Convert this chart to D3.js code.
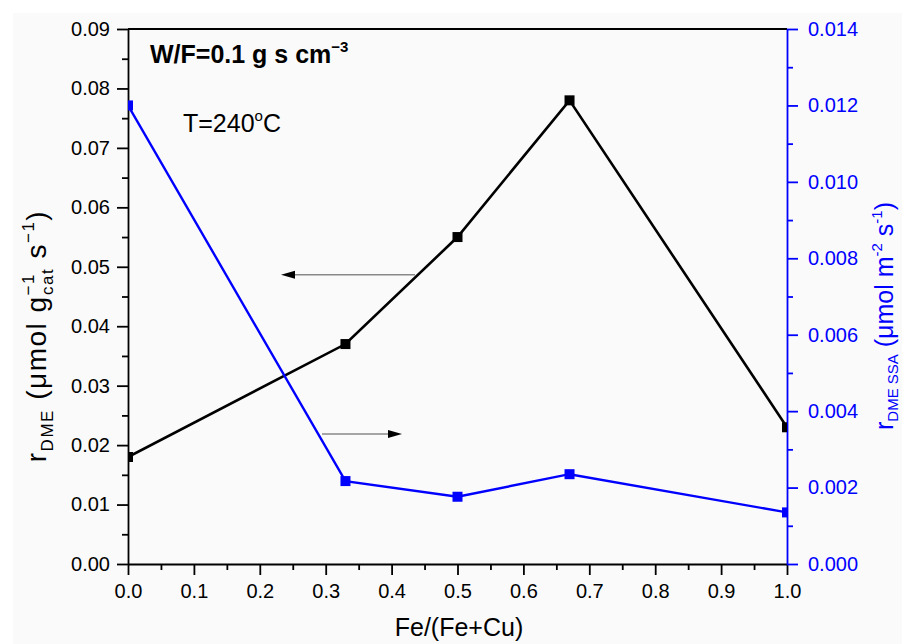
<!DOCTYPE html>
<html><head><meta charset="utf-8">
<script src="https://cdn.jsdelivr.net/npm/d3@7"></script>
<style>body{margin:0;background:#fff}svg{display:block}text{font-family:"Liberation Sans",Arial,sans-serif}</style>
</head><body>
<svg id="c" width="902" height="644"></svg>
<script>
const fracs = [0, 0.33, 0.5, 0.67, 1.0];
const rateMass = [0.018, 0.037, 0.055, 0.078, 0.023];
const rateArea = [0.0120, 0.00217, 0.00176, 0.00235, 0.00135];
const xTicks = [0,0.1,0.2,0.3,0.4,0.5,0.6,0.7,0.8,0.9,1.0];
const xMinor = [0.05,0.15,0.25,0.35,0.45,0.55,0.65,0.75,0.85,0.95];
const yLTicks = [0,0.01,0.02,0.03,0.04,0.05,0.06,0.07,0.08,0.09];
const yLMinor = [0.005,0.015,0.025,0.035,0.045,0.055,0.065,0.075,0.085];
const yRTicks = [0,0.002,0.004,0.006,0.008,0.010,0.012,0.014];
const yRMinor = [0.001,0.003,0.005,0.007,0.009,0.011,0.013];

const svg = d3.select("#c");
const L=128,R=787,T=29,B=564;
const x = d3.scaleLinear().domain([0,1]).range([L,R]);
const yL = d3.scaleLinear().domain([0,0.09]).range([B,T]);
const yR = d3.scaleLinear().domain([0,0.014]).range([B,T]);
const blue="#0000ff";

svg.append("rect").attr("x",13).attr("y",13).attr("width",902).attr("height",644).attr("fill","#fafafa");

svg.append("defs").append("clipPath").attr("id","clip").append("rect")
  .attr("x",L).attr("y",T-10).attr("width",R-L).attr("height",B-T+20);

// top border
svg.append("line").attr("x1",L).attr("x2",R).attr("y1",T).attr("y2",T).attr("stroke","#000").attr("stroke-width",1.8);

function styleAxis(g,color,fs){
  g.select(".domain").attr("stroke",color).attr("stroke-width",1.8);
  g.selectAll(".tick line").attr("stroke",color).attr("stroke-width",1.8);
  g.selectAll(".tick text").attr("fill",color).style("font-size",fs+"px").style("font-family",'"Liberation Sans",Arial,sans-serif');
}
// left axis
const gL = svg.append("g").attr("transform",`translate(${L},0)`)
  .call(d3.axisLeft(yL).tickValues(yLTicks).tickFormat(d3.format(".2f")).tickSize(11).tickSizeOuter(0).tickPadding(7));
styleAxis(gL,"#000",20);
const gLm = svg.append("g").attr("transform",`translate(${L},0)`)
  .call(d3.axisLeft(yL).tickValues(yLMinor).tickFormat("").tickSize(6).tickSizeOuter(0));
styleAxis(gLm,"#000",20); gLm.select(".domain").remove();

// bottom axis
const gB = svg.append("g").attr("transform",`translate(0,${B})`)
  .call(d3.axisBottom(x).tickValues(xTicks).tickFormat(d3.format(".1f")).tickSize(11).tickSizeOuter(0).tickPadding(9));
styleAxis(gB,"#000",20);
const gBm = svg.append("g").attr("transform",`translate(0,${B})`)
  .call(d3.axisBottom(x).tickValues(xMinor).tickFormat("").tickSize(6).tickSizeOuter(0));
styleAxis(gBm,"#000",20); gBm.select(".domain").remove();

// right axis
const gR = svg.append("g").attr("transform",`translate(${R},0)`)
  .call(d3.axisRight(yR).tickValues(yRTicks).tickFormat(d3.format(".3f")).tickSize(11).tickSizeOuter(0).tickPadding(10));
styleAxis(gR,blue,20);
const gRm = svg.append("g").attr("transform",`translate(${R},0)`)
  .call(d3.axisRight(yR).tickValues(yRMinor).tickFormat("").tickSize(6).tickSizeOuter(0));
styleAxis(gRm,blue,20); gRm.select(".domain").remove();

// data
const plot = svg.append("g").attr("clip-path","url(#clip)");
const dm = fracs.map((f,i)=>[f,rateMass[i]]);
const da = fracs.map((f,i)=>[f,rateArea[i]]);
plot.append("path").datum(dm).attr("fill","none").attr("stroke","#000").attr("stroke-width",2.6)
  .attr("d",d3.line().x(d=>x(d[0])).y(d=>yL(d[1])));
plot.selectAll(".mk").data(dm).join("rect").attr("x",d=>x(d[0])-5).attr("y",d=>yL(d[1])-5)
  .attr("width",10).attr("height",10).attr("fill","#000");
plot.append("path").datum(da).attr("fill","none").attr("stroke",blue).attr("stroke-width",2.4)
  .attr("d",d3.line().x(d=>x(d[0])).y(d=>yR(d[1])));
plot.selectAll(".mb").data(da).join("rect").attr("x",d=>x(d[0])-5).attr("y",d=>yR(d[1])-5)
  .attr("width",10).attr("height",10).attr("fill",blue);

// arrows
function arrow(x1,x2,y){
  svg.append("line").attr("x1",x1).attr("x2",x2+(x2<x1?12:-12)).attr("y1",y).attr("y2",y).attr("stroke","#888").attr("stroke-width",1.4);
  const dir = x2<x1?1:-1;
  svg.append("path").attr("d",`M${x2},${y} L${x2+dir*14},${y-4} L${x2+dir*14},${y+4} Z`).attr("fill","#000");
}
arrow(415,281,274.7);
arrow(322,402,434);

// annotations
const wf = svg.append("text").attr("x",150).attr("y",63).style("font-size","25px").style("font-weight","bold");
wf.append("tspan").text("W/F=0.1 g s cm");
wf.append("tspan").text("\u22123").style("font-size","15px").attr("dy",-11);
const tt = svg.append("text").attr("x",183).attr("y",132).style("font-size","25px");
tt.append("tspan").text("T=240");
tt.append("tspan").text("o").style("font-size","15px").attr("dy",-11);
tt.append("tspan").text("C").attr("dy",11);

// x title
svg.append("text").attr("x",459).attr("y",636).attr("text-anchor","middle").style("font-size","25px").text("Fe/(Fe+Cu)");

// left title
const lt = svg.append("text").attr("transform","translate(46,336) rotate(-90)").attr("text-anchor","middle")
  .style("font-size","28px").style("letter-spacing","1.5px");
lt.append("tspan").text("r");
lt.append("tspan").text("DME").style("font-size","17px").attr("dy",7);
lt.append("tspan").text(" (\u03bcmol g").attr("dy",-7);
lt.append("tspan").text("\u22121").style("font-size","17px").attr("dy",-12);
lt.append("tspan").text("cat").style("font-size","17px").attr("dx",-22).attr("dy",19);
lt.append("tspan").text(" s").attr("dy",-7);
lt.append("tspan").text("\u22121").style("font-size","17px").attr("dy",-12);
lt.append("tspan").text(")").attr("dy",12);

// right title
const rt = svg.append("text").attr("transform","translate(893,316) rotate(-90)").attr("text-anchor","middle").style("font-size","25px").attr("fill",blue);
rt.append("tspan").text("r");
rt.append("tspan").text("DME SSA").style("font-size","15px").attr("dy",5);
rt.append("tspan").text(" (\u03bcmol m").attr("dy",-5);
rt.append("tspan").text("-2").style("font-size","15px").attr("dy",-11);
rt.append("tspan").text(" s").attr("dy",11);
rt.append("tspan").text("-1").style("font-size","15px").attr("dy",-11);
rt.append("tspan").text(")").attr("dy",11);
</script>
</body></html>
